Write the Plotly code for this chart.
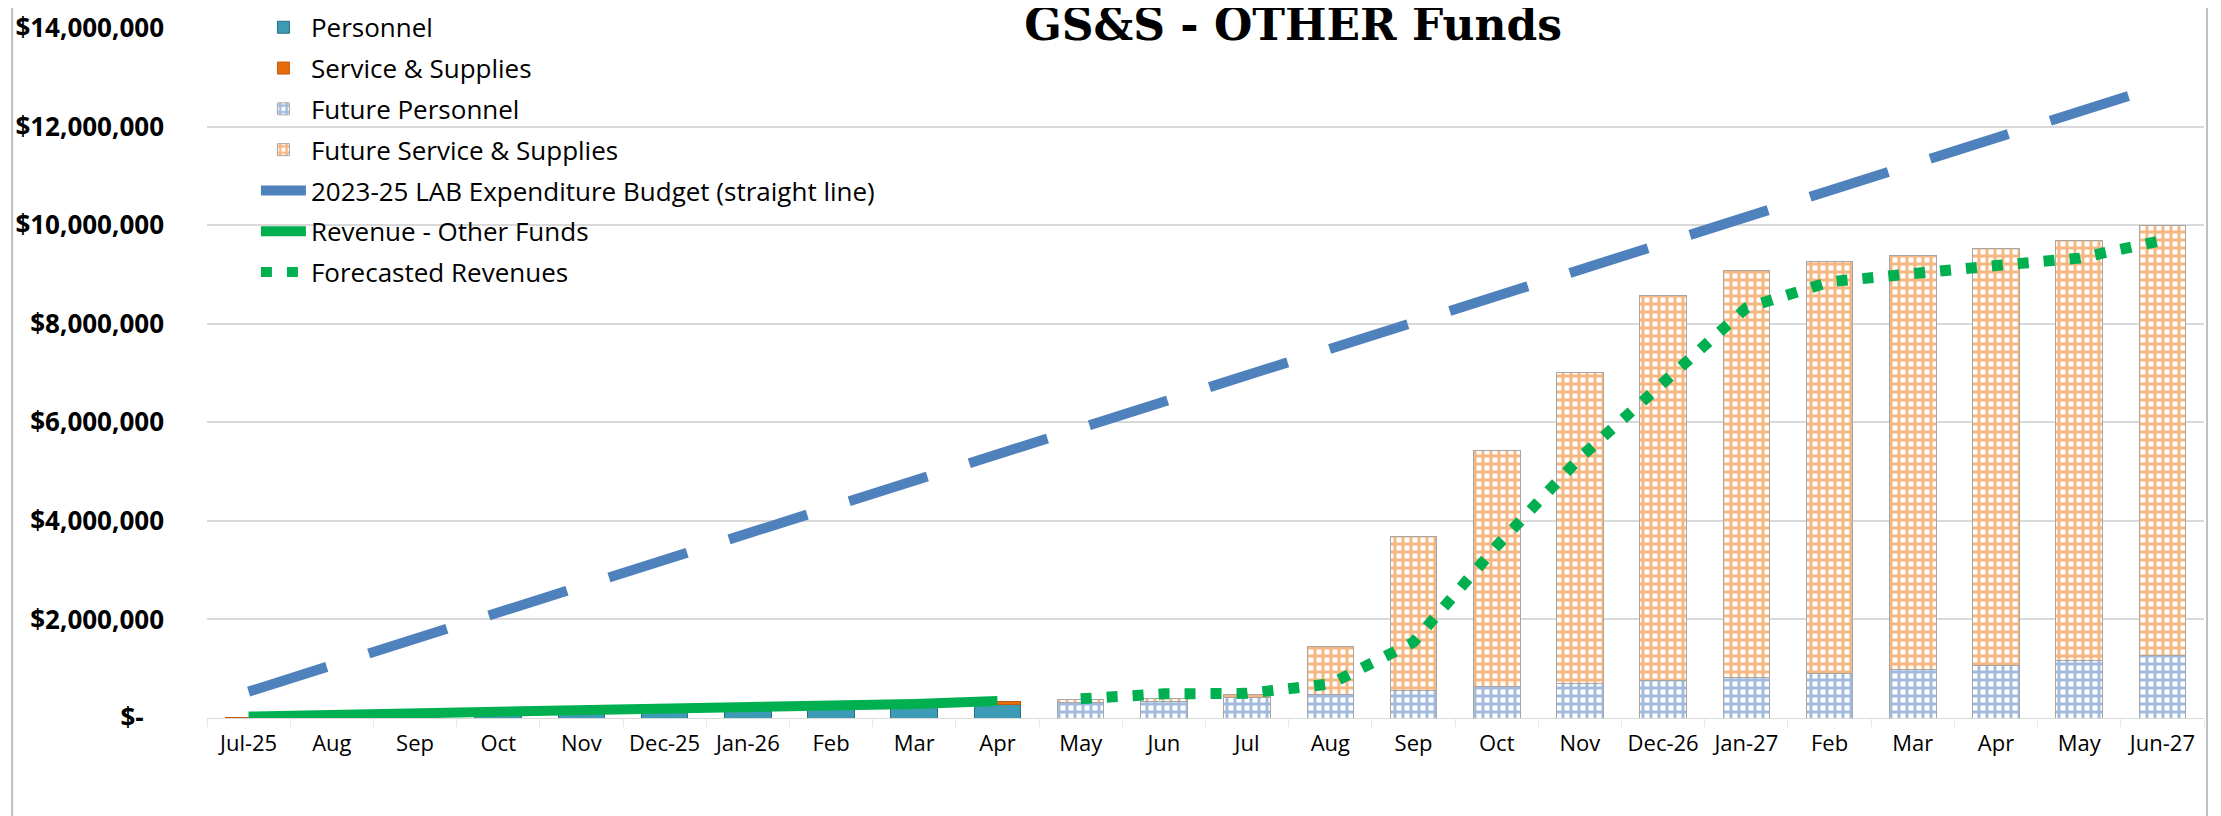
import plotly.graph_objects as go

# month keys are unique; labels repeat (Aug, Sep, ...) so they go through ticktext
month_keys = [
    "2025-07", "2025-08", "2025-09", "2025-10", "2025-11", "2025-12",
    "2026-01", "2026-02", "2026-03", "2026-04", "2026-05", "2026-06",
    "2026-07", "2026-08", "2026-09", "2026-10", "2026-11", "2026-12",
    "2027-01", "2027-02", "2027-03", "2027-04", "2027-05", "2027-06",
]
month_labels = [
    "Jul-25", "Aug", "Sep", "Oct", "Nov", "Dec-25", "Jan-26", "Feb", "Mar", "Apr",
    "May", "Jun", "Jul", "Aug", "Sep", "Oct", "Nov", "Dec-26", "Jan-27", "Feb",
    "Mar", "Apr", "May", "Jun-27",
]
actual_months = month_keys[:10]
future_months = month_keys[10:]

personnel = [0, 20000, 45000, 80000, 100000, 130000, 200000, 210000, 230000, 275000]
service_supplies = [20000, 5000, 5000, 8000, 8000, 10000, 12000, 12000, 15000, 55000]
revenue = [30000, 55000, 80000, 110000, 130000, 160000, 220000, 255000, 285000, 345000]

future_personnel = [320000, 340000, 410000, 470000, 560000, 630000, 690000,
                    760000, 830000, 900000, 980000, 1070000, 1160000, 1260000]
future_services = [50000, 60000, 60000, 980000, 3120000, 4800000, 6320000,
                   7820000, 8240000, 8370000, 8410000, 8460000, 8520000, 8730000]
forecast_revenue = [390000, 490000, 500000, 690000, 1540000, 3490000, 5280000,
                    6800000, 8320000, 8850000, 9040000, 9180000, 9330000, 9690000]

budget = [535000, 1070000, 1605000, 2140000, 2675000, 3210000, 3745000, 4280000,
          4815000, 5350000, 5885000, 6420000, 6955000, 7490000, 8025000, 8560000,
          9095000, 9630000, 10165000, 10700000, 11235000, 11770000, 12305000, 12840000]

y_ticks = [0, 2000000, 4000000, 6000000, 8000000, 10000000, 12000000, 14000000]
y_labels = ["$-\u00a0\u00a0\u00a0", "$2,000,000", "$4,000,000", "$6,000,000",
            "$8,000,000", "$10,000,000", "$12,000,000", "$14,000,000"]

FONT = "Open Sans"

fig = go.Figure()
fig.add_trace(go.Bar(
    x=actual_months, y=personnel, name="Personnel", legendgroup="a",
    marker=dict(color="#3E9BB5", line=dict(color="#2A6F84", width=1)),
))
fig.add_trace(go.Bar(
    x=actual_months, y=service_supplies, name="Service & Supplies", legendgroup="b",
    marker=dict(color="#E46C0A", line=dict(color="#C55A11", width=1)),
))
fig.add_trace(go.Bar(
    x=future_months, y=future_personnel, name="Future Personnel", legendgroup="c",
    marker=dict(color="#FFFFFF", line=dict(color="#A6A6A6", width=1),
                pattern=dict(shape="+", fgcolor="#4577BC", bgcolor="#FFFFFF",
                             size=8, solidity=0.6)),
))
fig.add_trace(go.Bar(
    x=future_months, y=future_services, name="Future Service & Supplies", legendgroup="d",
    marker=dict(color="#FFFFFF", line=dict(color="#A6A6A6", width=1),
                pattern=dict(shape="+", fgcolor="#EE6E00", bgcolor="#FFFFFF",
                             size=8, solidity=0.6)),
))
fig.add_trace(go.Scatter(
    x=month_keys, y=budget, mode="lines", name="2023-25 LAB Expenditure Budget (straight line)",
    legendgroup="e", line=dict(color="#4F81BD", width=10, dash="82px,44px"),
))
fig.add_trace(go.Scatter(
    x=actual_months, y=revenue, mode="lines", name="Revenue - Other Funds",
    legendgroup="f", line=dict(color="#00B050", width=10),
))
fig.add_trace(go.Scatter(
    x=future_months, y=forecast_revenue, mode="lines", name="Forecasted Revenues",
    legendgroup="g", line=dict(color="#00B050", width=11, dash="11px,15px"),
))

fig.update_layout(
    width=2221, height=816,
    margin=dict(l=199, r=25, t=20, b=106, autoexpand=False),
    paper_bgcolor="white", plot_bgcolor="white",
    barmode="stack", bargap=0.44,
    font=dict(family=FONT, color="black"),
    title=dict(text="GS&S - OTHER Funds", x=0.5786, xref="container", xanchor="center",
               y=0.980, yref="container", yanchor="middle",
               font=dict(family="DejaVu Serif", size=44, weight=700, color="black")),
    legend=dict(x=0.0245, y=1.035, xanchor="left", yanchor="top",
                bgcolor="rgba(0,0,0,0)", font=dict(family=FONT, size=26, color="black"),
                traceorder="grouped", tracegroupgap=4, itemwidth=45),
    xaxis=dict(type="category", categoryorder="array", categoryarray=month_keys,
               tickvals=month_keys, ticktext=month_labels, range=[-0.5, 23.5],
               showgrid=False, showline=True, linecolor="#D9D9D9", linewidth=1,
               ticks="outside", tickson="boundaries", ticklen=8, tickcolor="#E6E6E6",
               tickangle=0, automargin=False,
               tickfont=dict(family=FONT, size=22, color="black"), ticklabelstandoff=6),
    yaxis=dict(range=[0, 14000000], tickvals=y_ticks, ticktext=y_labels,
               showgrid=True, gridcolor="#D9D9D9", gridwidth=2, zeroline=False,
               automargin=False,
               tickfont=dict(family=FONT, size=26, weight=700, color="black"),
               ticklabelstandoff=42),
    shapes=[
        dict(type="line", xref="paper", yref="paper", x0=-0.0976, x1=-0.0976, y0=-0.16, y1=1.03,
             line=dict(color="#BFBFBF", width=2)),
        dict(type="line", xref="paper", yref="paper", x0=1.0015, x1=1.0015, y0=-0.16, y1=1.03,
             line=dict(color="#BFBFBF", width=2)),
    ],
)

fig.write_html("out.html")
